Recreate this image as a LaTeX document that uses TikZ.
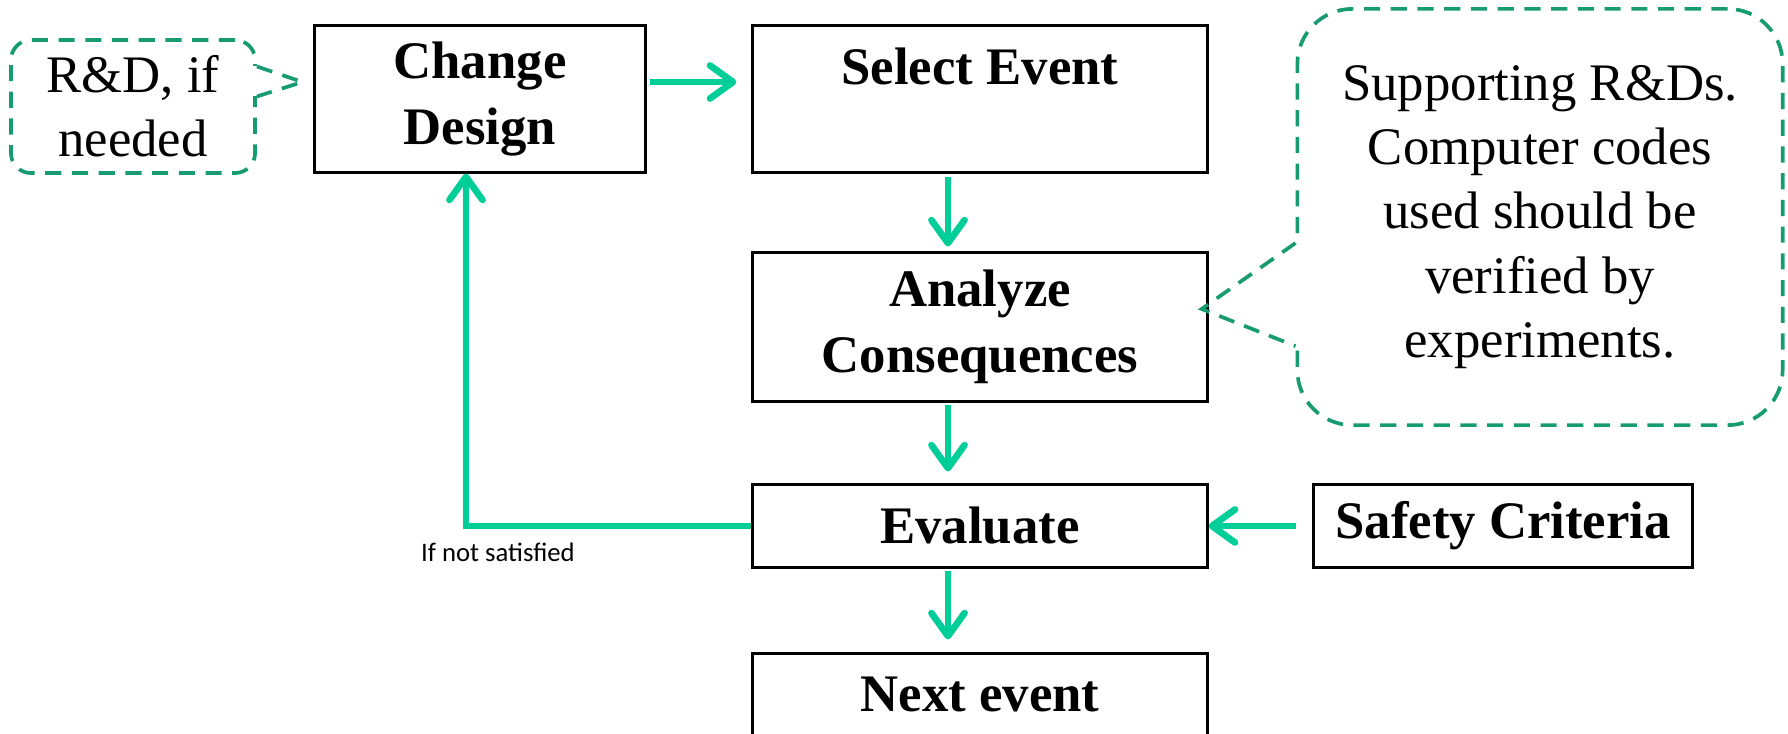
\documentclass[tikz,border=0pt]{standalone}
\usepackage{fontspec}
\setmainfont{Liberation Serif}
\newfontfamily\calfont{Carlito}
\usepackage{tikz}
\usetikzlibrary{positioning,arrows.meta,calc}
\definecolor{flowgreen}{HTML}{00CE98}
\definecolor{notegreen}{HTML}{179C72}
\tikzset{
  % --- nodes
  blk/.style  = {draw=black, line width=0.85pt, align=center, inner sep=2pt,
                 font=\fontsize{15}{18.6}\selectfont\bfseries},
  wide/.style = {blk, minimum width=4.54cm},
  note/.style = {draw=notegreen, line width=1.05pt, dash pattern=on 4.6pt off 3pt,
                 align=center, font=\fontsize{15}{18.3}\selectfont},
  tiny/.style = {font=\calfont\fontsize{7.6}{9}\selectfont, inner sep=1pt},
  % --- edges
  e/.style    = {draw=flowgreen, line width=1.9pt,
                 -{Straight Barb[length=2.3mm,width=3.3mm,round]}},
  ptr/.style  = {draw=notegreen, line width=1.05pt, dash pattern=on 4.6pt off 3pt},
}
\begin{document}
\begin{tikzpicture}[x=0.01cm,y=-0.01cm]
  \clip (0,0) rectangle (1788,733);
  % boxes
  \node[blk, minimum width=3.3cm, minimum height=1.46cm] (cd) at (480,99) {Change\\Design};
  \node[wide, minimum height=1.46cm] (se) at (980,99) {Select Event\\~};
  \node[wide, minimum height=1.48cm] (ac) at (980,327) {Analyze\\Consequences};
  \node[wide, minimum height=0.82cm] (ev) at (980,526) {Evaluate};
  \node[wide, minimum height=1.46cm] (ne) at (980,727) {Next event\\~};
  \node[blk, minimum width=3.78cm, minimum height=0.82cm] (sc) at (1503,526) {Safety Criteria};

  % callouts
  \node[note, rounded corners=0.2cm, minimum width=2.44cm, minimum height=1.33cm]
    (rd) at (133,106.5) {R\&D, if\\needed};
  \node[note, rounded corners=0.55cm, minimum width=4.85cm, minimum height=4.16cm]
    (sr) at (1540,217) {Supporting R\&Ds.\\Computer codes\\used should be\\verified by\\experiments.};
  \coordinate (rdtip) at ([xshift=-0.11cm,yshift=0.17cm]cd.west);
  \coordinate (srtip) at ([xshift=-0.07cm,yshift=0.18cm]ac.east);
  \draw[white, line width=2.4pt] ([yshift=0.4cm]rd.east) -- ([yshift=0.1cm]rd.east);
  \draw[ptr] ([yshift=0.4cm]rd.east) -- (rdtip) -- ([yshift=0.1cm]rd.east);
  \draw[white, line width=2.4pt] ([yshift=-0.26cm]sr.west) -- ([yshift=-1.29cm]sr.west);
  \draw[ptr] ([yshift=-0.26cm]sr.west) -- (srtip) -- ([yshift=-1.29cm]sr.west);

  % flow
  \draw[e, shorten <=0.03cm, shorten >=0.15cm] ([yshift=0.17cm]cd.east) -- ([yshift=0.17cm]se.west);
  \draw[e, shorten <=0.03cm, shorten >=0.05cm] ([xshift=-0.32cm]se.south) -- ([xshift=-0.32cm]ac.north);
  \draw[e, shorten <=0.02cm, shorten >=0.12cm] ([xshift=-0.32cm]ac.south) -- ([xshift=-0.32cm]ev.north);
  \draw[e, shorten <=0.02cm, shorten >=0.13cm] ([xshift=-0.32cm]ev.south) -- ([xshift=-0.32cm]ne.north);
  \draw[e, shorten <=0.16cm] (sc.west) -- (ev.east);
  \draw[e] (ev.west) -| node[tiny, pos=0.444, below=3pt] (nsat) {If not satisfied}
    ([xshift=-0.14cm]cd.south);
\end{tikzpicture}
\end{document}
